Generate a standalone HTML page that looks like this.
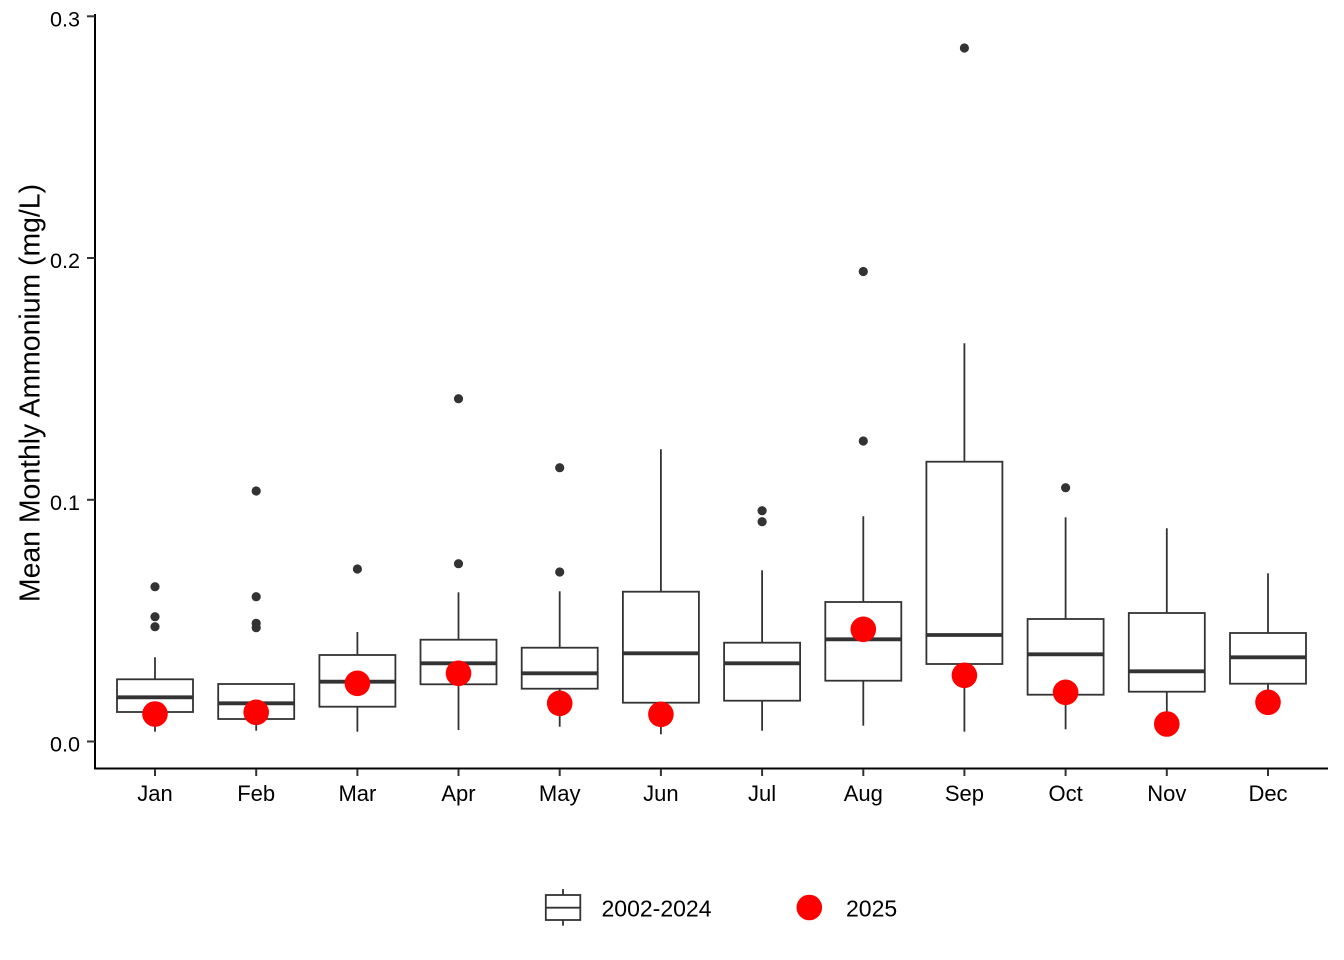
<!DOCTYPE html>
<html>
<head>
<meta charset="utf-8">
<style>
html,body{margin:0;padding:0;background:#fff;}
svg{display:block;}
text{font-family:"Liberation Sans",Arial,sans-serif;fill:#000;}
</style>
</head>
<body>
<svg width="1344" height="960" viewBox="0 0 1344 960" xmlns="http://www.w3.org/2000/svg">
<rect width="1344" height="960" fill="#fff"/>

<!-- Boxplots -->
<g stroke="#333333" stroke-width="1.8" fill="#fff">
  <!-- Jan -->
  <line x1="155" y1="657.3" x2="155" y2="679.3"/><line x1="155" y1="712" x2="155" y2="731.7"/>
  <rect x="117" y="679.3" width="76" height="32.7"/>
  <line x1="117" y1="697.3" x2="193" y2="697.3" stroke-width="3.8"/>
  <!-- Feb -->
  <line x1="256.2" y1="719" x2="256.2" y2="730.7"/>
  <rect x="218.2" y="684" width="76" height="35"/>
  <line x1="218.2" y1="703.3" x2="294.2" y2="703.3" stroke-width="3.8"/>
  <!-- Mar -->
  <line x1="357.4" y1="632" x2="357.4" y2="655"/><line x1="357.4" y1="706.7" x2="357.4" y2="731.7"/>
  <rect x="319.4" y="655" width="76" height="51.7"/>
  <line x1="319.4" y1="681.7" x2="395.4" y2="681.7" stroke-width="3.8"/>
  <!-- Apr -->
  <line x1="458.5" y1="592.3" x2="458.5" y2="639.7"/><line x1="458.5" y1="684.3" x2="458.5" y2="730"/>
  <rect x="420.5" y="639.7" width="76" height="44.6"/>
  <line x1="420.5" y1="663.3" x2="496.5" y2="663.3" stroke-width="3.8"/>
  <!-- May -->
  <line x1="559.7" y1="591.3" x2="559.7" y2="647.7"/><line x1="559.7" y1="688.7" x2="559.7" y2="726.7"/>
  <rect x="521.7" y="647.7" width="76" height="41"/>
  <line x1="521.7" y1="673.3" x2="597.7" y2="673.3" stroke-width="3.8"/>
  <!-- Jun -->
  <line x1="660.9" y1="449.3" x2="660.9" y2="591.7"/><line x1="660.9" y1="702.7" x2="660.9" y2="734.3"/>
  <rect x="622.9" y="591.7" width="76" height="111"/>
  <line x1="622.9" y1="653.3" x2="698.9" y2="653.3" stroke-width="3.8"/>
  <!-- Jul -->
  <line x1="762.1" y1="570.3" x2="762.1" y2="642.7"/><line x1="762.1" y1="700.7" x2="762.1" y2="730.7"/>
  <rect x="724.1" y="642.7" width="76" height="58"/>
  <line x1="724.1" y1="663.3" x2="800.1" y2="663.3" stroke-width="3.8"/>
  <!-- Aug -->
  <line x1="863.3" y1="516.3" x2="863.3" y2="602"/><line x1="863.3" y1="680.7" x2="863.3" y2="725.7"/>
  <rect x="825.3" y="602" width="76" height="78.7"/>
  <line x1="825.3" y1="639.3" x2="901.3" y2="639.3" stroke-width="3.8"/>
  <!-- Sep -->
  <line x1="964.4" y1="343.3" x2="964.4" y2="461.7"/><line x1="964.4" y1="664" x2="964.4" y2="731.7"/>
  <rect x="926.4" y="461.7" width="76" height="202.3"/>
  <line x1="926.4" y1="635" x2="1002.4" y2="635" stroke-width="3.8"/>
  <!-- Oct -->
  <line x1="1065.6" y1="517.3" x2="1065.6" y2="619"/><line x1="1065.6" y1="694.7" x2="1065.6" y2="729.3"/>
  <rect x="1027.6" y="619" width="76" height="75.7"/>
  <line x1="1027.6" y1="654.3" x2="1103.6" y2="654.3" stroke-width="3.8"/>
  <!-- Nov -->
  <line x1="1166.8" y1="528.3" x2="1166.8" y2="613"/><line x1="1166.8" y1="691.7" x2="1166.8" y2="730"/>
  <rect x="1128.8" y="613" width="76" height="78.7"/>
  <line x1="1128.8" y1="671.3" x2="1204.8" y2="671.3" stroke-width="3.8"/>
  <!-- Dec -->
  <line x1="1268" y1="573.3" x2="1268" y2="633"/><line x1="1268" y1="683.7" x2="1268" y2="694"/>
  <rect x="1230" y="633" width="76" height="50.7"/>
  <line x1="1230" y1="657.3" x2="1306" y2="657.3" stroke-width="3.8"/>
</g>

<!-- Outliers -->
<g fill="#333333">
  <circle cx="155" cy="586.7" r="4.6"/><circle cx="155" cy="616.7" r="4.6"/><circle cx="155" cy="626.7" r="4.6"/>
  <circle cx="256.2" cy="491" r="4.6"/><circle cx="256.2" cy="596.7" r="4.6"/><circle cx="256.2" cy="623.3" r="4.6"/><circle cx="256.2" cy="627.7" r="4.6"/>
  <circle cx="357.4" cy="569" r="4.6"/>
  <circle cx="458.5" cy="398.7" r="4.6"/><circle cx="458.5" cy="563.7" r="4.6"/>
  <circle cx="559.7" cy="467.7" r="4.6"/><circle cx="559.7" cy="572" r="4.6"/>
  <circle cx="762.1" cy="510.7" r="4.6"/><circle cx="762.1" cy="521.7" r="4.6"/>
  <circle cx="863.3" cy="271.5" r="4.6"/><circle cx="863.3" cy="441" r="4.6"/>
  <circle cx="964.4" cy="48" r="4.6"/>
  <circle cx="1065.6" cy="487.7" r="4.6"/>
</g>

<!-- 2025 points -->
<g fill="#ff0000">
  <circle cx="155" cy="714" r="12.8"/>
  <circle cx="256.2" cy="712.3" r="12.8"/>
  <circle cx="357.4" cy="683.3" r="12.8"/>
  <circle cx="458.5" cy="673.3" r="12.8"/>
  <circle cx="559.7" cy="703.3" r="12.8"/>
  <circle cx="660.9" cy="714.3" r="12.8"/>
  <circle cx="863.3" cy="629.3" r="12.8"/>
  <circle cx="964.4" cy="675.3" r="12.8"/>
  <circle cx="1065.6" cy="692.3" r="12.8"/>
  <circle cx="1166.8" cy="724" r="12.8"/>
  <circle cx="1268" cy="702.3" r="12.8"/>
</g>

<!-- Axes -->
<line x1="95" y1="14" x2="95" y2="769.5" stroke="#000" stroke-width="2"/>
<line x1="94" y1="768.5" x2="1328" y2="768.5" stroke="#000" stroke-width="2"/>

<!-- Y ticks -->
<g stroke="#333333" stroke-width="2">
  <line x1="87" y1="16.3" x2="95" y2="16.3"/>
  <line x1="87" y1="258" x2="95" y2="258"/>
  <line x1="87" y1="499.8" x2="95" y2="499.8"/>
  <line x1="87" y1="741.5" x2="95" y2="741.5"/>
</g>
<g font-size="21.6" text-anchor="end">
  <text x="80" y="26.5">0.3</text>
  <text x="80" y="268.2">0.2</text>
  <text x="80" y="510">0.1</text>
  <text x="80" y="751.7">0.0</text>
</g>

<!-- X ticks -->
<g stroke="#333333" stroke-width="2">
  <line x1="155" y1="769" x2="155" y2="776"/>
  <line x1="256.2" y1="769" x2="256.2" y2="776"/>
  <line x1="357.4" y1="769" x2="357.4" y2="776"/>
  <line x1="458.5" y1="769" x2="458.5" y2="776"/>
  <line x1="559.7" y1="769" x2="559.7" y2="776"/>
  <line x1="660.9" y1="769" x2="660.9" y2="776"/>
  <line x1="762.1" y1="769" x2="762.1" y2="776"/>
  <line x1="863.3" y1="769" x2="863.3" y2="776"/>
  <line x1="964.4" y1="769" x2="964.4" y2="776"/>
  <line x1="1065.6" y1="769" x2="1065.6" y2="776"/>
  <line x1="1166.8" y1="769" x2="1166.8" y2="776"/>
  <line x1="1268" y1="769" x2="1268" y2="776"/>
</g>
<g font-size="22" text-anchor="middle">
  <text x="155" y="801">Jan</text>
  <text x="256.2" y="801">Feb</text>
  <text x="357.4" y="801">Mar</text>
  <text x="458.5" y="801">Apr</text>
  <text x="559.7" y="801">May</text>
  <text x="660.9" y="801">Jun</text>
  <text x="762.1" y="801">Jul</text>
  <text x="863.3" y="801">Aug</text>
  <text x="964.4" y="801">Sep</text>
  <text x="1065.6" y="801">Oct</text>
  <text x="1166.8" y="801">Nov</text>
  <text x="1268" y="801">Dec</text>
</g>

<!-- Y title -->
<text transform="translate(39.5,393) rotate(-90)" font-size="28.4" text-anchor="middle">Mean Monthly Ammonium (mg/L)</text>

<!-- Legend -->
<g stroke="#333333" stroke-width="1.8" fill="#fff">
  <line x1="563" y1="889" x2="563" y2="925.7"/>
  <rect x="545.8" y="895" width="34.5" height="25"/>
  <line x1="545.8" y1="907.7" x2="580.3" y2="907.7"/>
</g>
<text x="601.5" y="916.7" font-size="23">2002-2024</text>
<circle cx="809.3" cy="907.5" r="12.8" fill="#ff0000"/>
<text x="846" y="916.7" font-size="23">2025</text>
</svg>
</body>
</html>
